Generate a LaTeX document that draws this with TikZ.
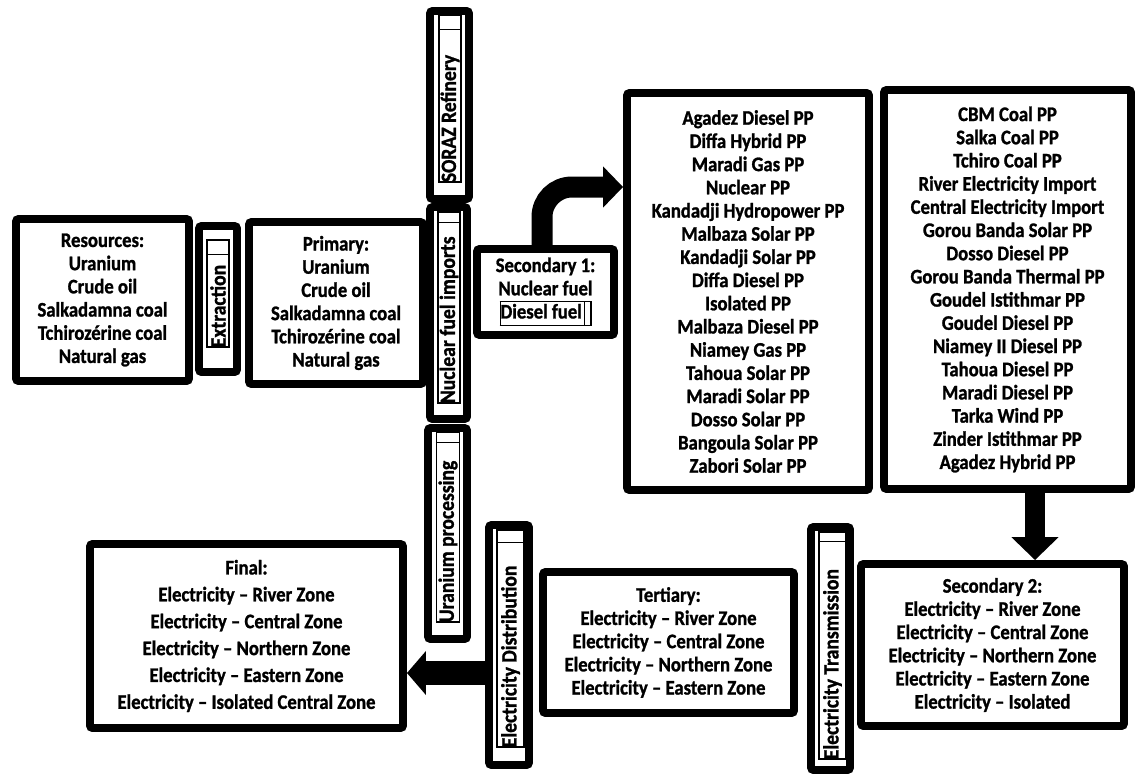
\documentclass[tikz,border=0pt]{standalone}
\usepackage{fontspec}
\setmainfont{Carlito}[BoldFeatures={FakeStretch=0.9, FakeBold=1.2}]
\usetikzlibrary{arrows.meta, calc}

\tikzset{
  stage/.style={draw, line width=4.5pt, rounded corners=1.5pt, inner sep=0pt, align=center,
    font=\fontsize{11.8}{13.2}\selectfont\bfseries},
  procbox/.style={draw, line width=4.5pt, rounded corners=1.5pt, inner sep=0pt},
  proclabel/.style={draw, line width=0.6pt, rotate=90, inner sep=0pt},
  proctext/.style={rotate=90, anchor=west, inner sep=0pt, font=\fontsize{12.4}{13}\selectfont\bfseries},
  divider/.style={line width=0.6pt}
}

\begin{document}
\begin{tikzpicture}
\useasboundingbox (0,0) rectangle (22.8,-15.5);
% Energy stages
\node[stage, minimum width=3.46cm, minimum height=3.24cm] (res) at (2.05,-6.00)
  {Resources:\\Uranium\\Crude oil\\Salkadamna coal\\Tchirozérine coal\\Natural gas};
\node[stage, minimum width=3.48cm, minimum height=3.24cm] (prim) at (6.72,-6.06)
  {Primary:\\Uranium\\Crude oil\\Salkadamna coal\\Tchirozérine coal\\Natural gas};
\node[stage, minimum width=2.74cm, minimum height=1.72cm] (sec1) at (10.91,-5.84)
  {Secondary 1:\\Nuclear fuel\\{\setlength{\fboxsep}{0pt}\setlength{\fboxrule}{0.6pt}\fbox{\strut Diesel fuel\hspace{1.5pt}\vrule\hspace{3pt}}}};
\node[stage, minimum width=4.84cm, minimum height=7.94cm] (plants1) at (14.96,-5.83)
  {Agadez Diesel PP\\Diffa Hybrid PP\\Maradi Gas PP\\Nuclear PP\\Kandadji Hydropower PP\\Malbaza Solar PP\\Kandadji Solar PP\\Diffa Diesel PP\\Isolated PP\\Malbaza Diesel PP\\Niamey Gas PP\\Tahoua Solar PP\\Maradi Solar PP\\Dosso Solar PP\\Bangoula Solar PP\\Zabori Solar PP};
\node[stage, minimum width=4.94cm, minimum height=7.98cm] (plants2) at (20.15,-5.79)
  {CBM Coal PP\\Salka Coal PP\\Tchiro Coal PP\\River Electricity Import\\Central Electricity Import\\Gorou Banda Solar PP\\Dosso Diesel PP\\Gorou Banda Thermal PP\\Goudel Istithmar PP\\Goudel Diesel PP\\Niamey II Diesel PP\\Tahoua Diesel PP\\Maradi Diesel PP\\Tarka Wind PP\\Zinder Istithmar PP\\Agadez Hybrid PP};
\node[stage, minimum width=5.26cm, minimum height=3.24cm] (sec2) at (19.85,-12.90)
  {Secondary 2:\\Electricity – River Zone\\Electricity – Central Zone\\Electricity – Northern Zone\\Electricity – Eastern Zone\\Electricity – Isolated};
\node[stage, minimum width=5.02cm, minimum height=2.82cm] (tert) at (13.37,-12.85)
  {Tertiary:\\Electricity – River Zone\\Electricity – Central Zone\\Electricity – Northern Zone\\Electricity – Eastern Zone};
\node[stage, minimum width=6.26cm, minimum height=3.68cm, font=\fontsize{11.8}{15.3}\selectfont\bfseries] (final) at (4.93,-12.72)
  {Final:\\Electricity – River Zone\\Electricity – Central Zone\\Electricity – Northern Zone\\Electricity – Eastern Zone\\Electricity – Isolated Central Zone};

% Processes (vertical boxes)
\node[procbox, minimum width=0.76cm, minimum height=2.92cm] (extr) at (4.36,-5.98) {};
\node[proclabel, minimum width=2.14cm, minimum height=0.44cm] (extrlbl) at (4.36,-5.87) {};
\node[proctext] (extrtxt) at (extrlbl.west) {Extraction};
\draw[divider] ($(extrlbl.north east)+(0,-0.30)$) -- ($(extrlbl.south east)+(0,-0.30)$);

\node[procbox, minimum width=0.78cm, minimum height=3.76cm] (soraz) at (8.99,-2.10) {};
\node[proclabel, minimum width=3.34cm, minimum height=0.44cm] (sorazlbl) at (9.00,-1.97) {};
\node[proctext] (soraztxt) at (sorazlbl.west) {SORAZ Refinery};
\draw[divider] ($(sorazlbl.north east)+(0,-0.30)$) -- ($(sorazlbl.south east)+(0,-0.30)$);

\node[procbox, minimum width=0.74cm, minimum height=4.24cm] (nfi) at (8.97,-6.26) {};
\node[proclabel, minimum width=3.82cm, minimum height=0.44cm] (nfilbl) at (8.98,-6.15) {};
\node[proctext] (nfitxt) at (nfilbl.west) {Nuclear fuel imports};
\draw[divider] ($(nfilbl.north east)+(0,-0.22)$) -- ($(nfilbl.south east)+(0,-0.22)$);

\node[procbox, minimum width=0.78cm, minimum height=4.22cm] (upr) at (8.95,-10.67) {};
\node[proclabel, minimum width=3.80cm, minimum height=0.46cm] (uprlbl) at (8.96,-10.54) {};
\node[proctext] (uprtxt) at (uprlbl.west) {Uranium processing};
\draw[divider] ($(uprlbl.north east)+(0,-0.22)$) -- ($(uprlbl.south east)+(0,-0.22)$);

\node[procbox, minimum width=0.80cm, minimum height=4.80cm] (dist) at (10.18,-12.90) {};
\node[proclabel, minimum width=4.34cm, minimum height=0.54cm] (distlbl) at (10.21,-12.77) {};
\node[proctext] (disttxt) at (distlbl.west) {Electricity Distribution};
\draw[divider] ($(distlbl.north east)+(0,-0.26)$) -- ($(distlbl.south east)+(0,-0.26)$);

\node[procbox, minimum width=0.78cm, minimum height=4.86cm] (trans) at (16.61,-12.97) {};
\node[proclabel, minimum width=4.54cm, minimum height=0.54cm] (translbl) at (16.65,-12.91) {};
\node[proctext] (transtxt) at (translbl.west) {Electricity Transmission};
\draw[divider] ($(translbl.north east)+(0,-0.20)$) -- ($(translbl.south east)+(0,-0.20)$);

% Flows
\draw[line width=0.42cm, rounded corners=0.6cm, -{Triangle[length=0.4cm, width=0.8cm]}]
  ([xshift=-0.07cm]sec1.north) |- ([yshift=2.09cm]plants1.west);
\coordinate (drop) at ([xshift=0.55cm]plants2.south);
\draw[line width=0.4cm, -{Triangle[length=0.46cm, width=0.92cm]}] (drop) -- (drop |- sec2.north);
\coordinate (feed) at ([yshift=-0.56cm]dist.west);
\draw[line width=0.48cm, -{Triangle[length=0.38cm, width=0.86cm]}] (feed) -- (feed -| final.east);
\end{tikzpicture}
\end{document}
